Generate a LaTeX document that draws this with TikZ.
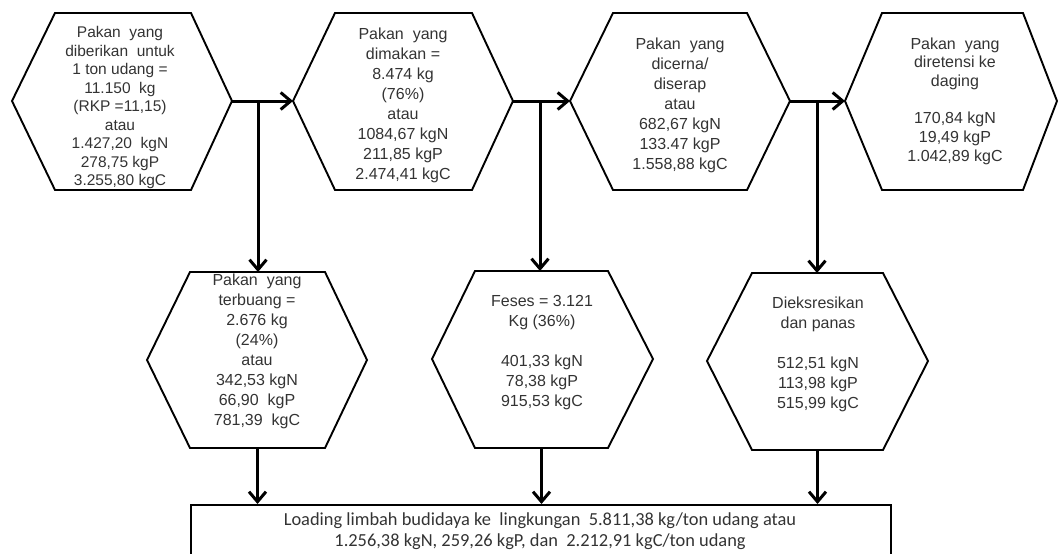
\documentclass[tikz,border=0pt]{standalone}
\usepackage{fontspec}
\setmainfont{Liberation Sans}
\newfontfamily\calib{Carlito}
\usetikzlibrary{arrows.meta,calc}
\definecolor{txt}{HTML}{333333}
\newcommand{\hexshape}[8]{%
  \coordinate (#1-w) at (#2,#7);
  \coordinate (#1-e) at (#5,#7);
  \coordinate (#1-n) at ({(#3+#4)/2},#6);
  \coordinate (#1-s) at ({(#3+#4)/2},#8);
  \draw[hexline] (#2,#7) -- (#3,#6) -- (#4,#6) -- (#5,#7) -- (#4,#8) -- (#3,#8) -- cycle;}
\begin{document}
\begin{tikzpicture}[x=1pt,y=-1pt,
  hexline/.style={line width=1.9pt, line join=miter},
  flow/.style={line width=3pt, -{Straight Barb[length=10pt,width=17pt]}},
  lbl/.style={align=center, inner sep=0pt, text=txt},
  hfont/.style={font=\fontsize{16}{20}\selectfont},
]
\useasboundingbox (0,0) rectangle (1058,554);
\clip (0,0) rectangle (1058,554);
\hexshape{h1}{12}{55}{191}{232}{13}{101}{190}
\hexshape{h2}{293}{335}{472}{513}{13}{101}{190}
\hexshape{h3}{570}{613}{747}{790}{13}{101}{190}
\hexshape{h4}{845}{882}{1023}{1057}{13}{101}{190}
\hexshape{h5}{147}{190}{325}{367}{272}{360}{448}
\hexshape{h6}{432}{475}{608}{653}{271}{359}{448}
\hexshape{h7}{707}{752}{883}{928}{273}{361}{450}

\node[lbl, font=\fontsize{15.5}{18.5}\selectfont] (t1) at (120,107.5)
  {Pakan\ \ yang\\diberikan\ \ untuk\\1 ton udang =\\11.150\ \ kg\\(RKP =11,15)\\atau\\1.427,20\ \ kgN\\278,75 kgP\\3.255,80 kgC};
\node[lbl, hfont] (t2) at (403,105)
  {Pakan\ \ yang\\dimakan =\\8.474 kg\\(76\%)\\atau\\1084,67 kgN\\211,85 kgP\\2.474,41 kgC};
\node[lbl, hfont] (t3) at (680,105)
  {Pakan\ \ yang\\dicerna/\\diserap\\atau\\682,67 kgN\\133.47 kgP\\1.558,88 kgC};
\node[lbl, font=\fontsize{16}{18.7}\selectfont] (t4) at (955,101)
  {Pakan\ \ yang\\diretensi ke\\daging\\\mbox{}\\170,84 kgN\\19,49 kgP\\1.042,89 kgC};
\node[lbl, hfont] (t5) at (257,351)
  {Pakan\ \ yang\\terbuang =\\2.676 kg\\(24\%)\\atau\\342,53 kgN\\66,90\ \ kgP\\781,39\ \ kgC};
\node[lbl, hfont] (t6) at (542,353)
  {Feses = 3.121\\Kg (36\%)\\\mbox{}\\401,33 kgN\\78,38 kgP\\915,53 kgC};
\node[lbl, hfont] (t7) at (818,354)
  {Dieksresikan\\dan panas\\\mbox{}\\512,51 kgN\\113,98 kgP\\515,99 kgC};

\node[draw, line width=1.9pt, minimum width=700pt, minimum height=70pt, anchor=north west, inner sep=0pt] (box) at (190,504) {};
\node[lbl, font=\calib\fontsize{18.4}{21}\selectfont] (bt) at (540,531)
  {Loading limbah budidaya ke\ \ lingkungan\ \ 5.811,38 kg/ton udang atau\\1.256,38 kgN, 259,26 kgP, dan\ \ 2.212,91 kgC/ton udang};

\coordinate (b1) at (258,101);
\coordinate (b2) at (540,101);
\coordinate (b3) at (817,101);
\draw[flow] (h1-e) -- (h2-w);
\draw[flow] (h2-e) -- (h3-w);
\draw[flow] (h3-e) -- (h4-w);
\draw[flow] (b1) -- (b1 |- h5-n);
\draw[flow] (b2) -- (b2 |- h6-n);
\draw[flow] (b3) -- (b3 |- h7-n);
\draw[flow] (h5-s) -- (h5-s |- box.north);
\draw[flow] (h6-s) -- (h6-s |- box.north);
\draw[flow] (h7-s) -- (h7-s |- box.north);
\end{tikzpicture}
\end{document}
